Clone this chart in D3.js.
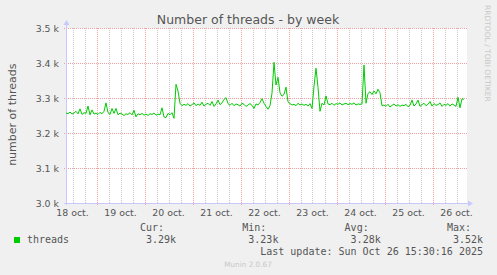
<!DOCTYPE html>
<html>
<head>
<meta charset="utf-8">
<script src="https://cdn.jsdelivr.net/npm/d3@7"></script>
<style>
  body { margin: 0; background: #f0f0f0; }
  svg { display: block; }
  text { font-family: "DejaVu Sans", sans-serif; }
  .mono { font-family: "DejaVu Sans Mono", monospace; }
</style>
</head>
<body>
<div id="chart-area"></div>
<script>
// hourly thread counts (one value per hour from 18 oct 08:45)
var threads = [
  3258,3255,3260,3254,3257,3262,3255,3269,3253,3258,3256,3277,3252,3266,3254,3257,3253,3259,3255,3262,3286,3258,3253,3270,
  3256,3270,3252,3257,3254,3250,3255,3253,3258,3252,3265,3246,3255,3252,3256,3251,3254,3250,3255,3253,3257,3251,3254,3252,
  3272,3246,3244,3256,3252,3258,3242,3339,3320,3285,3278,3282,3279,3284,3277,3281,3286,3278,3283,3279,3288,3277,3282,3285,
  3279,3290,3276,3283,3294,3281,3286,3296,3301,3284,3279,3285,3278,3283,3281,3277,3285,3282,3276,3280,3284,3279,3270,3283,
  3280,3287,3298,3285,3276,3268,3278,3314,3402,3337,3359,3315,3305,3310,3331,3289,3284,3280,3282,3278,3285,3280,3283,3279,
  3282,3277,3284,3270,3334,3385,3330,3262,3285,3280,3306,3283,3281,3285,3279,3284,3282,3286,3280,3283,3285,3281,3284,3282,
  3286,3280,3283,3282,3283,3394,3285,3313,3318,3310,3320,3312,3325,3315,3278,3280,3276,3282,3274,3279,3283,3277,3281,3276,
  3280,3278,3282,3275,3279,3294,3277,3283,3294,3276,3281,3285,3278,3282,3290,3277,3284,3279,3281,3286,3276,3282,3279,3284,
  3277,3283,3280,3276,3302,3272,3298,3296
];
var dayLabels = ["18 oct.", "19 oct.", "20 oct.", "21 oct.", "22 oct.", "23 oct.", "24 oct.", "25 oct.", "26 oct."];
var yTicks = [3000, 3100, 3200, 3300, 3400, 3500];
var yLabels = ["3.0 k", "3.1 k", "3.2 k", "3.3 k", "3.4 k", "3.5 k"];
var legendHeads = ["Cur:", "Min:", "Avg:", "Max:"];
var legendVals = ["3.29k", "3.23k", "3.28k", "3.52k"];

var width = 497, height = 275;
var pLeft = 66, pRight = 466, pTop = 28, pBottom = 203;
var HOUR = 3600 * 1000;
var start = Date.UTC(2025, 9, 18, 8, 45);
var end = start + 200 * HOUR;

var svg = d3.select("#chart-area").append("svg")
	.attr("width", width)
	.attr("height", height);

svg.append("rect").attr("width", width).attr("height", height).attr("fill", "#f0f0f0");

var x = d3.scaleUtc().domain([start, end]).range([pLeft, pRight]);
var y = d3.scaleLinear().domain([3000, 3500]).range([pBottom, pTop]);

svg.append("rect")
	.attr("x", pLeft + 1).attr("y", pTop)
	.attr("width", pRight - pLeft).attr("height", pBottom - pTop)
	.attr("fill", "#ffffff");

// grid
var sixHours = d3.utcHour.every(6).range(new Date(start), new Date(end));
var grid = svg.append("g");
grid.selectAll(".minor").data(sixHours.filter(d => d.getUTCHours() !== 0)).enter().append("line")
	.attr("x1", d => Math.round(x(d)) + 0.5).attr("x2", d => Math.round(x(d)) + 0.5)
	.attr("y1", pTop).attr("y2", pBottom)
	.attr("stroke", "#c8c8c8").attr("stroke-dasharray", "1,1");
grid.selectAll(".major").data(sixHours.filter(d => d.getUTCHours() === 0)).enter().append("line")
	.attr("x1", d => Math.round(x(d)) + 0.5).attr("x2", d => Math.round(x(d)) + 0.5)
	.attr("y1", pTop).attr("y2", pBottom + 3)
	.attr("stroke", "#f0a0a0").attr("stroke-dasharray", "1,1");
grid.selectAll(".hgrid").data(yTicks).enter().append("line")
	.attr("x1", pLeft - 2).attr("x2", pRight + 2)
	.attr("y1", d => Math.round(y(d)) + 0.5).attr("y2", d => Math.round(y(d)) + 0.5)
	.attr("stroke", "#f0a0a0").attr("stroke-dasharray", "1,1");

// axes with arrows
var axisCol = "#c8c8ff";
svg.append("line").attr("x1", pLeft + 0.5).attr("x2", pLeft + 0.5).attr("y1", pBottom + 2).attr("y2", pTop - 4)
	.attr("stroke", axisCol);
svg.append("line").attr("x1", pLeft - 2).attr("x2", pRight + 4).attr("y1", pBottom + 0.5).attr("y2", pBottom + 0.5)
	.attr("stroke", axisCol);
svg.append("path").attr("d", "M" + (pLeft - 2.5) + "," + (pTop - 3) + "L" + (pLeft + 0.5) + "," + (pTop - 8) + "L" + (pLeft + 3.5) + "," + (pTop - 3) + "Z")
	.attr("fill", axisCol);
svg.append("path").attr("d", "M" + (pRight + 2) + "," + (pBottom - 2.5) + "L" + (pRight + 7) + "," + (pBottom + 0.5) + "L" + (pRight + 2) + "," + (pBottom + 3.5) + "Z")
	.attr("fill", axisCol);

// y tick labels
var yAxis = d3.axisLeft(y).tickValues(yTicks).tickFormat((d, i) => yLabels[i]).tickSize(0).tickPadding(7);
var ya = svg.append("g").attr("transform", "translate(" + pLeft + ",0.5)").call(yAxis);
ya.select(".domain").remove();
ya.selectAll("text").attr("font-family", "DejaVu Sans").attr("font-size", "9.4px").attr("fill", "#555").attr("dy", "0.36em");

// x tick labels at noon
var noons = dayLabels.map((d, i) => new Date(Date.UTC(2025, 9, 18 + i, 12)));
svg.append("g").selectAll("text").data(noons).enter().append("text")
	.attr("x", d => x(d)).attr("y", 216)
	.attr("text-anchor", "middle")
	.attr("font-size", "9.4px").attr("fill", "#555")
	.text((d, i) => dayLabels[i]);

// line
var line = d3.line()
	.x((d, i) => x(start + i * HOUR))
	.y(d => y(d));
svg.append("path").datum(threads)
	.attr("d", line)
	.attr("fill", "none")
	.attr("stroke", "#00cc00")
	.attr("stroke-width", 1);

// titles
svg.append("text").attr("x", 248).attr("y", 24).attr("text-anchor", "middle")
	.attr("font-size", "12.5px").attr("fill", "#555")
	.text("Number of threads - by week");
svg.append("text").attr("transform", "translate(15.5,114.7) rotate(-90)").attr("text-anchor", "middle")
	.attr("font-size", "11px").attr("fill", "#555")
	.text("number of threads");
svg.append("text").attr("transform", "translate(485,5) rotate(90)")
	.attr("font-size", "7.5px").attr("fill", "#c8c8c8")
	.text("RRDTOOL / TOBI OETIKER");

// legend
svg.append("rect").attr("x", 14).attr("y", 237).attr("width", 6).attr("height", 6).attr("fill", "#00cc00");
svg.append("text").attr("class", "mono").attr("x", 27).attr("y", 243)
	.attr("font-size", "10px").attr("fill", "#555").text("threads");
svg.append("g").selectAll("text").data(legendHeads).enter().append("text")
	.attr("class", "mono").attr("x", (d, i) => 140 + i * 102.3).attr("y", 231)
	.attr("font-size", "10px").attr("fill", "#555").text(d => d);
svg.append("g").selectAll("text").data(legendVals).enter().append("text")
	.attr("class", "mono").attr("x", (d, i) => 146 + i * 102.3).attr("y", 243)
	.attr("font-size", "10px").attr("fill", "#555").text(d => d);
svg.append("text").attr("class", "mono").attr("x", 483).attr("y", 255).attr("text-anchor", "end")
	.attr("font-size", "10px").attr("fill", "#555")
	.text("Last update: Sun Oct 26 15:30:16 2025");
svg.append("text").attr("x", 248).attr("y", 267).attr("text-anchor", "middle")
	.attr("font-size", "7.3px").attr("fill", "#c8c8c8")
	.text("Munin 2.0.67");
</script>
</body>
</html>
